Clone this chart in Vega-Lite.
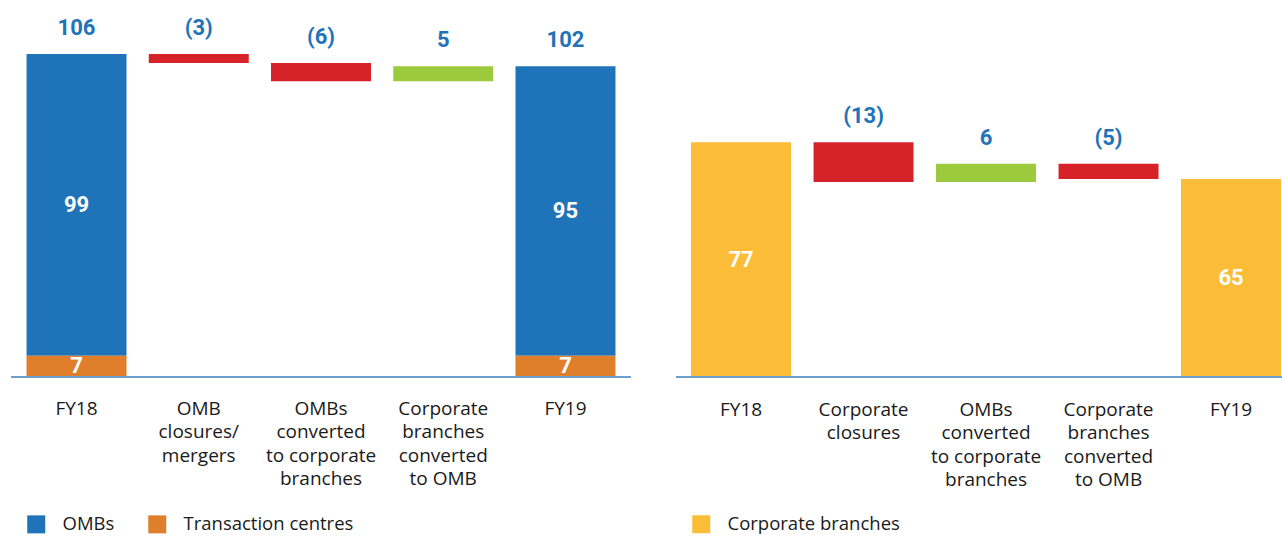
{
  "$schema": "https://vega.github.io/schema/vega-lite/v6.json",
  "padding": {"left": 10, "top": 0, "right": 0, "bottom": 0},
  "background": "white",
  "spacing": 43,
  "config": {
    "view": {"stroke": null},
    "font": "Open Sans",
    "axis": {"grid": false}
  },
  "datasets": {
    "leftBars": [
      {"category": "FY18", "type": "OMBs", "start": 7, "end": 106, "inner": "99"},
      {"category": "FY18", "type": "Transaction centres", "start": 0, "end": 7, "inner": "7"},
      {"category": "OMB|closures/|mergers", "type": "Decrease", "start": 103, "end": 106, "inner": null},
      {"category": "OMBs|converted|to corporate|branches", "type": "Decrease", "start": 97, "end": 103, "inner": null},
      {"category": "Corporate|branches|converted|to OMB", "type": "Increase", "start": 97, "end": 102, "inner": null},
      {"category": "FY19", "type": "OMBs", "start": 7, "end": 102, "inner": "95"},
      {"category": "FY19", "type": "Transaction centres", "start": 0, "end": 7, "inner": "7"}
    ],
    "leftTop": [
      {"category": "FY18", "top": 106, "label": "106"},
      {"category": "OMB|closures/|mergers", "top": 106, "label": "(3)"},
      {"category": "OMBs|converted|to corporate|branches", "top": 103, "label": "(6)"},
      {"category": "Corporate|branches|converted|to OMB", "top": 102, "label": "5"},
      {"category": "FY19", "top": 102, "label": "102"}
    ],
    "rightBars": [
      {"category": "FY18", "type": "Corporate branches", "start": 0, "end": 77, "inner": "77"},
      {"category": "Corporate|closures", "type": "Decrease", "start": 64, "end": 77, "inner": null},
      {"category": "OMBs|converted|to corporate|branches", "type": "Increase", "start": 64, "end": 70, "inner": null},
      {"category": "Corporate|branches|converted|to OMB", "type": "Decrease", "start": 65, "end": 70, "inner": null},
      {"category": "FY19", "type": "Corporate branches", "start": 0, "end": 65, "inner": "65"}
    ],
    "rightTop": [
      {"category": "Corporate|closures", "top": 77, "label": "(13)"},
      {"category": "OMBs|converted|to corporate|branches", "top": 70, "label": "6"},
      {"category": "Corporate|branches|converted|to OMB", "top": 70, "label": "(5)"}
    ]
  },
  "hconcat": [
    {
      "width": 620,
      "height": 377,
      "layer": [
        {
          "data": {"name": "leftBars"},
          "mark": {"type": "bar"},
          "encoding": {
            "x": {
              "field": "category", "type": "nominal",
              "sort": ["FY18", "OMB|closures/|mergers", "OMBs|converted|to corporate|branches", "Corporate|branches|converted|to OMB", "FY19"],
              "scale": {"paddingInner": 0.182, "paddingOuter": 0.127, "round": false},
              "axis": {
                "title": null, "domain": false, "ticks": false, "labelAngle": 0,
                "labelFont": "Open Sans", "labelFontSize": 19, "labelColor": "#1a1a1a",
                "labelPadding": 22, "labelLineHeight": 23.5, "labelBaseline": "top",
                "labelExpr": "split(datum.label, '|')", "labelLimit": 0
              }
            },
            "y": {"field": "start", "type": "quantitative", "scale": {"domain": [0, 123.7], "nice": false}, "axis": null},
            "y2": {"field": "end"},
            "color": {
              "field": "type", "type": "nominal",
              "scale": {"domain": ["OMBs", "Transaction centres", "Decrease", "Increase"], "range": ["#1f73b8", "#df7f2c", "#d62229", "#9bcb3c"]},
              "legend": {
                "values": ["OMBs", "Transaction centres"],
                "orient": "none", "legendX": 16, "legendY": 515, "direction": "horizontal",
                "title": null, "symbolType": "square", "symbolSize": 324, "symbolStrokeWidth": 0,
                "labelFont": "Open Sans", "labelFontSize": 18.5, "labelColor": "#1a1a1a",
                "labelOffset": 17, "columnPadding": 33, "padding": 0, "labelLimit": 400
              }
            }
          }
        },
        {
          "data": {"name": "leftBars"},
          "transform": [{"filter": "isValid(datum.inner)"}, {"fold": ["start", "end"]}],
          "mark": {"type": "text", "font": "Roboto", "fontWeight": "bold", "fontSize": 22, "color": "white", "baseline": "middle"},
          "encoding": {
            "x": {"field": "category", "type": "nominal", "sort": ["FY18", "OMB|closures/|mergers", "OMBs|converted|to corporate|branches", "Corporate|branches|converted|to OMB", "FY19"]},
            "y": {"field": "value", "aggregate": "mean", "type": "quantitative", "scale": {"domain": [0, 123.7], "nice": false}, "axis": null},
            "detail": {"field": "type", "type": "nominal"},
            "text": {"field": "inner", "type": "nominal"}
          }
        },
        {
          "data": {"name": "leftTop"},
          "mark": {"type": "text", "font": "Roboto", "fontWeight": "bold", "fontSize": 22, "color": "#1f73b8", "baseline": "alphabetic", "dy": -19},
          "encoding": {
            "x": {"field": "category", "type": "nominal", "sort": ["FY18", "OMB|closures/|mergers", "OMBs|converted|to corporate|branches", "Corporate|branches|converted|to OMB", "FY19"]},
            "y": {"field": "top", "type": "quantitative", "scale": {"domain": [0, 123.7], "nice": false}, "axis": null},
            "text": {"field": "label", "type": "nominal"}
          }
        },
        {
          "data": {"values": [{}]},
          "mark": {"type": "rule", "color": "#6c9fcb", "strokeWidth": 2},
          "encoding": {"y": {"datum": 0, "type": "quantitative"}}
        }
      ]
    },
    {
      "width": 606,
      "height": 377,
      "layer": [
        {
          "data": {"name": "rightBars"},
          "mark": {"type": "bar"},
          "encoding": {
            "x": {
              "field": "category", "type": "nominal",
              "sort": ["FY18", "Corporate|closures", "OMBs|converted|to corporate|branches", "Corporate|branches|converted|to OMB", "FY19"],
              "scale": {"paddingInner": 0.1837, "paddingOuter": 0.0653, "align": 0.94, "round": false},
              "axis": {
                "title": null, "domain": false, "ticks": false, "labelAngle": 0,
                "labelFont": "Open Sans", "labelFontSize": 19, "labelColor": "#1a1a1a",
                "labelPadding": 23, "labelLineHeight": 23.5, "labelBaseline": "top",
                "labelExpr": "split(datum.label, '|')", "labelLimit": 0
              }
            },
            "y": {"field": "start", "type": "quantitative", "scale": {"domain": [0, 123.7], "nice": false}, "axis": null},
            "y2": {"field": "end"},
            "color": {
              "field": "type", "type": "nominal",
              "scale": {"domain": ["Corporate branches", "Decrease", "Increase"], "range": ["#fbbc38", "#d62229", "#9bcb3c"]},
              "legend": {
                "values": ["Corporate branches"],
                "orient": "none", "legendX": 16, "legendY": 515, "direction": "horizontal",
                "title": null, "symbolType": "square", "symbolSize": 324, "symbolStrokeWidth": 0,
                "labelFont": "Open Sans", "labelFontSize": 18.5, "labelColor": "#1a1a1a",
                "labelOffset": 17, "columnPadding": 33, "padding": 0, "labelLimit": 400
              }
            }
          }
        },
        {
          "data": {"name": "rightBars"},
          "transform": [{"filter": "isValid(datum.inner)"}, {"fold": ["start", "end"]}],
          "mark": {"type": "text", "font": "Roboto", "fontWeight": "bold", "fontSize": 22, "color": "white", "baseline": "middle"},
          "encoding": {
            "x": {"field": "category", "type": "nominal", "sort": ["FY18", "Corporate|closures", "OMBs|converted|to corporate|branches", "Corporate|branches|converted|to OMB", "FY19"]},
            "y": {"field": "value", "aggregate": "mean", "type": "quantitative", "scale": {"domain": [0, 123.7], "nice": false}, "axis": null},
            "detail": {"field": "type", "type": "nominal"},
            "text": {"field": "inner", "type": "nominal"}
          }
        },
        {
          "data": {"name": "rightTop"},
          "mark": {"type": "text", "font": "Roboto", "fontWeight": "bold", "fontSize": 22, "color": "#1f73b8", "baseline": "alphabetic", "dy": -19},
          "encoding": {
            "x": {"field": "category", "type": "nominal", "sort": ["FY18", "Corporate|closures", "OMBs|converted|to corporate|branches", "Corporate|branches|converted|to OMB", "FY19"]},
            "y": {"field": "top", "type": "quantitative", "scale": {"domain": [0, 123.7], "nice": false}, "axis": null},
            "text": {"field": "label", "type": "nominal"}
          }
        },
        {
          "data": {"values": [{}]},
          "mark": {"type": "rule", "color": "#6c9fcb", "strokeWidth": 2},
          "encoding": {"y": {"datum": 0, "type": "quantitative"}}
        }
      ]
    }
  ],
  "resolve": {
    "scale": {"x": "independent", "y": "independent", "color": "independent"},
    "legend": {"color": "independent"}
  }
}
